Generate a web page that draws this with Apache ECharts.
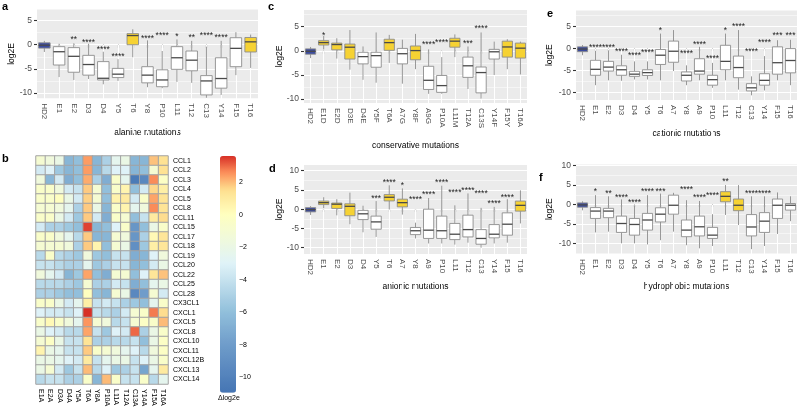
<!DOCTYPE html>
<html><head><meta charset="utf-8">
<script src="https://cdn.jsdelivr.net/npm/echarts@6/dist/echarts.min.js"></script>
<style>html,body{margin:0;padding:0;background:#fff}#c{width:800px;height:408px}</style>
</head><body><div id="c"></div>
<script>
// ---------------- DATA ----------------
// box rows: [min, Q1, median, Q3, max]
const catsA = ['HD2','E1','E2','D3','D4','Y5','T6','Y8','P10','L11','T12','C13','Y14','F15','T16'];
const boxA = [[-1.5,-0.7,-0.1,0.4,0.8],[-6.7,-4.2,-1.45,-0.4,0.2],[-7.3,-5.7,-2.4,-0.6,0.3],[-7.1,-6.3,-4.1,-2.2,0.2],
  [-8.2,-7.3,-6.95,-3.5,-1.45],[-7.5,-6.8,-6.1,-4.9,-3.0],[-2.6,0,1.9,2.3,3.2],[-8.8,-7.9,-6.3,-4.55,0.9],
  [-9.0,-8.7,-7.3,-5.2,-1.3],[-7.7,-5.1,-2.7,-0.4,1.1],[-7.9,-5.4,-3.2,-1.3,0.8],[-11.0,-10.4,-7.5,-6.4,-0.4],
  [-10.4,-9.0,-7.0,-2.7,0.8],[-6.3,-4.55,-0.75,1.45,2.6],[-4.8,-1.5,0.6,1.5,2.1]];
const groupA = ['ctrl','neg','neg','neg','neg','neg','pos','neg','neg','neg','neg','neg','neg','neg','pos'];
const starsA = ['','','**','****','****','****','','****','****','*','**','****','****','',''];
const starYA = [null,null,1.45,0.9,-0.6,-2.0,null,1.6,2.3,2.1,1.9,2.3,1.9,null,null];

const catsC = ['HD2','E1D','E2D','D3E','D4E','Y5F','T6A','A7G','Y8F','A9G','P10A','L11M','T12A','C13S','Y14F','F15Y','T16A'];
const boxC = [[-1.5,-0.7,-0.1,0.4,0.8],[0.3,1.2,1.7,2.1,3.1],[-1.6,0.2,1.3,1.6,2.6],[-3.9,-1.7,0.75,1.4,4.3],
  [-6.0,-2.7,-1.2,-0.3,0.9],[-6.6,-3.4,-1.0,-0.3,3.8],[-2.5,0.1,1.7,2.4,3.3],[-6.8,-2.7,-0.6,0.5,2.3],
  [-3.8,-1.85,0.05,1.0,3.5],[-8.9,-8.0,-6.1,-3.2,0.3],[-8.9,-8.6,-7.2,-5.1,-1.3],[-1.3,0.75,2.0,2.6,3.4],
  [-7.9,-5.5,-3.1,-1.3,0.9],[-9.9,-8.7,-4.5,-3.35,3.8],[-5.0,-1.7,-0.2,0.3,1.9],[-3.8,-1.3,0.8,2.0,2.4],
  [-4.9,-1.5,0.55,1.6,1.9]];
const groupC = ['ctrl','pos','pos','pos','neg','neg','pos','neg','pos','neg','neg','pos','neg','neg','neg','pos','pos'];
const starsC = ['','*','','','','','','','','****','****','','***','****','','',''];
const starYC = [null,3.6,null,null,null,null,null,null,null,1.7,2.1,null,1.85,4.9,null,null,null];

const catsE = ['HD2','E1','E2','D3','D4','Y5','T6','A7','Y8','A9','P10','L11','T12','C13','Y14','F15','T16'];
const boxE = [[-1.5,-0.7,-0.1,0.4,0.8],[-8.3,-6.05,-4.7,-2.65,-0.5],[-7.2,-5.1,-4.2,-2.9,-0.4],[-7.3,-6.05,-4.8,-3.9,-1.4],
  [-7.0,-6.3,-5.8,-5.15,-2.9],[-7.0,-6.1,-5.45,-4.8,-2.9],[-7.2,-3.6,-1.5,-0.2,3.4],[-5.1,-3.1,-0.6,1.7,4.2],
  [-8.3,-7.35,-6.05,-5.3,-3.8],[-7.2,-5.8,-5.1,-2.3,0.4],[-8.9,-8.3,-7.05,-6.05,-3.25],[-7.2,-4.8,-2.9,0.75,3.4],
  [-9.3,-6.6,-4.3,-1.7,4.2],[-10.6,-9.6,-8.9,-7.95,-6.3],[-9.5,-8.3,-7.2,-5.7,-1.7],[-7.2,-5.8,-3.2,0.4,1.9],
  [-8.3,-5.5,-2.7,0,2.0]];
const groupE = ['ctrl','neg','neg','neg','neg','neg','neg','neg','neg','neg','neg','neg','neg','neg','neg','neg','neg'];
const starsE = ['','****','****','****','****','****','*','','****','****','****','*','****','****','****','***','***'];
const starYE = [null,0.75,0.75,-0.25,-1.1,-0.5,4.5,null,-0.75,1.3,-1.9,4.5,5.45,-0.25,1.9,3.4,3.4];

const catsD = ['HD2','E1','E2','D3','D4','Y5','T6','A7','Y8','A9','P10','L11','T12','C13','Y14','F15','T16'];
const boxD = [[-1.5,-0.7,-0.1,0.4,0.8],[0.3,1.2,1.7,2.1,3.1],[-1.6,0.2,1.3,1.6,2.6],[-3.9,-1.7,0.75,1.4,4.3],
  [-6.0,-2.7,-1.2,-0.3,0.9],[-7.2,-5.2,-3.3,-1.8,2.1],[0,2.15,3.1,3.8,6.2],[-1.4,0.6,1.7,2.6,5.4],
  [-7.6,-6.6,-5.6,-4.75,-3.5],[-8.9,-7.6,-5.45,0,2.9],[-8.9,-7.6,-5.6,-1.8,6.1],[-9.2,-7.9,-6.5,-3.7,1.0],
  [-8.7,-7.2,-5.3,-1.55,4.1],[-10.0,-9.1,-7.6,-5.3,0.35],[-8.9,-7.45,-6.5,-4.0,0.6],[-8.7,-6.75,-3.9,-0.95,2.6],
  [-3.7,-0.5,1.0,2.1,4.9]];
const groupD = ['ctrl','pos','pos','pos','neg','neg','pos','pos','neg','neg','neg','neg','neg','neg','neg','neg','pos'];
const starsD = ['','','','','','***','****','*','****','****','****','****','****','****','****','****',''];
const starYD = [null,null,null,null,null,3.2,7.5,6.7,3.0,4.3,7.4,4.7,5.4,4.5,1.9,3.6,null];

const catsF = ['HD2','E1','E2','D3','D4','Y5','T6','A7','Y8','A9','P10','L11','T12','C13','Y14','F15','T16'];
const boxF = [[-1.5,-0.7,-0.1,0.4,0.8],[-7.2,-3.6,-1.7,-0.8,2.4],[-7.0,-3.4,-1.7,-1.0,2.1],[-10.0,-7.2,-4.9,-3.0,1.3],
  [-10.0,-7.9,-5.15,-3.6,-0.2],[-10.3,-6.6,-4.0,-2.3,2.4],[-9.2,-4.5,-2.5,-0.85,2.8],[-7.0,-2.5,-0.2,2.4,3.0],
  [-10.5,-8.3,-6.6,-4.0,1.1],[-11.3,-8.1,-5.75,-3.0,0.9],[-10.7,-8.75,-7.9,-5.9,-2.5],[-2.7,0.7,2.1,3.3,5.0],
  [-5.3,-1.6,-0.2,1.4,5.0],[-11.5,-8.1,-5.8,-2.6,2.1],[-10.7,-7.2,-4.3,-2.1,2.1],[-7.6,-3.6,-0.2,1.4,3.1],
  [-4.3,-1.45,-0.2,0.25,2.1]];
const groupF = ['ctrl','neg','neg','neg','neg','neg','neg','neg','neg','neg','neg','pos','pos','neg','neg','neg','neg'];
const starsF = ['','*','**','****','****','****','***','','****','****','****','**','','****','****','',''];
const starYF = [null,3.9,3.4,2.4,1.1,3.7,3.7,null,4.4,2.2,2.8,6.5,null,3.3,3.3,null,null];

const yMajorTicks = [-10,-5,0,5,10];
const yMinorTicks = [-12.5,-7.5,-2.5,2.5,7.5];

// heatmap
const hmCols = ['E1A','E2A','D3A','D4A','Y5A','T6A','Y8A','P10A','L11A','T12A','C13A','Y14A','F15A','T16A'];
const hmRows = ['CCL1','CCL2','CCL3','CCL4','CCL5','CCL8','CCL11','CCL15','CCL17','CCL18','CCL19','CCL20','CCL22','CCL25','CCL28','CX3CL1','CXCL1','CXCL5','CXCL8','CXCL10','CXCL11','CXCL12B','CXCL13','CXCL14'];
const hmValues = [
 [-1,-1.5,-2,-6.5,-6,2.4,-6.5,-5,-2.5,-2,-6.5,-6.5,1.9,1.4],
 [-3.5,-3,-5.5,-6.5,-6,2.4,-6.5,-4.5,-3,-3,-6.5,-6,-1,1.4],
 [-1.5,-6.5,-3.5,-7,-6,2.2,-5,-7,-0.5,-2.5,-10.5,-9.5,2.6,-0.3],
 [-0.5,-0.5,-1.5,-3.5,-4,1.8,-1,-6,-0.5,0.5,-6,-3.5,1.6,0.8],
 [-0.5,-0.5,0,-2,-3.5,1.7,-1,-6,0.6,1,-3.5,-0.5,2.3,1.3],
 [-1,-1,-1.5,-2.5,-5,1.8,-2,-6.5,-0.5,0.5,-2.5,-1.5,2.6,1.3],
 [-0.5,-0.5,-2,-3.5,-5.5,1.8,-3.5,-7,-0.5,-1,-6,-4,1,1.5],
 [-3.5,-5,-5,-5.5,-6,3.4,-6.5,-6,-3,-0.5,-8.5,-6,-2,-0.5],
 [-0.5,-0.5,-1.5,-2.5,-4.5,1.8,-6.5,-6.5,-1,-1.5,-8.5,-5,0.3,1.2],
 [-1,-1,-1,-1.5,-5,1.8,0.5,-6,-1,-2,-9,-5.5,0.8,1.2],
 [-4.5,-0.5,-4.5,-5,-5.5,-1.5,-5.5,-6,-4,-4,-7,-6.5,-3,-1.5],
 [-4,-4,-4.5,-5,-5,-2.5,-5.5,-5,-4,-4,-6.5,-6,-3.5,-2],
 [-1.5,-2.5,-3.5,-6.5,-5.5,2.3,-6,-7,-1,-1,-6,-3,1.2,1.9],
 [-4.5,-4.5,-4.5,-5,-5.5,-1,-5,-5,-3.5,-4,-7,-6,-2.5,-2],
 [-5,-5,-5.5,-6,-6,0,-6,-6.5,-1,-2,-9.5,-8,-1,-3.5],
 [-0.5,-0.5,-2,-3.5,-2.5,0.8,-4,-3.5,-4,-5,-5.5,-6,-2.5,-0.5],
 [-3,-3.5,-3.5,-4,-3,3.6,-4,-4.5,-5,-3.5,-1,-0.5,2.8,1.5],
 [-0.5,0.3,-0.5,-1.5,-2.5,2.5,-1,-1.5,-4.5,-4,-1,-0.3,-0.5,2],
 [-2,-3,-3.5,-4.5,-4.5,2.3,-4,-5.5,-3,-3.5,3,-5,-2,-0.5],
 [-1,-0.3,-2,-4,-4,1.3,-5,-5,-4.5,-4.5,-4,-6,-2,-0.3],
 [0.5,-2,-2.5,-4,-4,1.8,-0.5,-1,-1.5,-2.5,-3,-4.5,-1.5,-0.3],
 [-2,-2,-2.5,-3,-3.5,1,-4,-2.5,-2,-2,-4,-3,-2,-0.5],
 [-2,-1,-3.5,-5.5,-4,2,-4.5,-3,-5.5,-5,-4,-7.5,-2.5,1],
 [-4.5,-4,-4,-5,-5,-0.5,-6.5,2,-0.5,-4,-4,-0.5,-4.5,-2.5]
];
const legendTicks = [-10,-8,-6,-4,-2,0,2];
const hmMin = -10.95, hmMax = 3.6;

// ---------------- STYLE / LAYOUT ----------------
const FONT = '"Liberation Sans", Arial, Helvetica, sans-serif';
const GROUP_FILL = {ctrl:'#3A4A9E', pos:'#F6D233', neg:'#FFFFFF'};
const colorStops = [[-10.95,'#4575B4'],[-8,'#6F9CCA'],[-6,'#91BFDB'],[-3,'#E0F3F8'],[0,'#FFFFBF'],[1.5,'#FEE090'],[2.6,'#FC8D59'],[3.6,'#D73027']];
function hex(c){return [1,3,5].map(k=>parseInt(c.substr(k,2),16));}
function rampColors(n){
  const out=[];
  for(let k=0;k<n;k++){
    const v=hmMin+(hmMax-hmMin)*k/(n-1);
    let j=0; while(j<colorStops.length-2 && v>colorStops[j+1][0]) j++;
    const a=colorStops[j], b=colorStops[j+1];
    const t=Math.max(0,Math.min(1,(v-a[0])/(b[0]-a[0])));
    const ca=hex(a[1]), cb=hex(b[1]);
    out.push('rgb('+ca.map((x,m)=>Math.round(x+(cb[m]-x)*t)).join(',')+')');
  }
  return out;
}

const panels = [
 {cats:catsA, box:boxA, grp:groupA, stars:starsA, starY:starYA, grid:{left:37,top:9.5,width:221,height:88.8}, y:[-11.1,7.3], xname:'alanine mutations', xgap:29.5, ygap:20.5},
 {cats:catsC, box:boxC, grp:groupC, stars:starsC, starY:starYC, grid:{left:304,top:10,width:223,height:93}, y:[-10.8,8.45], xname:'conservative mutations', xgap:38.5, ygap:19.5},
 {cats:catsE, box:boxE, grp:groupE, stars:starsE, starY:starYE, grid:{left:576,top:10.5,width:221,height:89.5}, y:[-11.66,8.64], xname:'cationic mutations', xgap:29, ygap:21.5},
 {cats:catsD, box:boxD, grp:groupD, stars:starsD, starY:starYD, grid:{left:304,top:165,width:223,height:89}, y:[-11.64,11.48], xname:'anionic mutations', xgap:28.5, ygap:19.5},
 {cats:catsF, box:boxF, grp:groupF, stars:starsF, starY:starYF, grid:{left:576,top:164.5,width:221,height:89.5}, y:[-12.76,10.3], xname:'hydrophobic mutations', xgap:28.5, ygap:21.5}
];

const grids=[], xAxes=[], yAxes=[], series=[];
panels.forEach((p,k)=>{
  grids.push(Object.assign({show:true, backgroundColor:'#EBEBEB', borderWidth:0, outerBoundsMode:'none', containLabel:false}, p.grid));
  const inRange = v => v>=p.y[0] && v<=p.y[1];
  xAxes.push({type:'category', gridIndex:k, data:p.cats, position:'bottom',
    axisLine:{show:false}, splitLine:{show:false},
    axisTick:{show:true, length:3, alignWithLabel:true, interval:0, lineStyle:{color:'#333', width:1.1}},
    axisLabel:{rotate:-90, interval:0, fontSize:8, color:'#4D4D4D', fontFamily:FONT, margin:5},
    name:p.xname, nameLocation:'middle', nameGap:p.xgap, nameMoveOverlap:false,
    nameTextStyle:{fontSize:8.5, color:'#000', fontFamily:FONT}});
  xAxes.push({type:'category', gridIndex:k, data:p.cats, position:'top',
    axisLine:{show:false}, axisLabel:{show:false}, splitLine:{show:false},
    axisTick:{show:true, inside:true, length:p.grid.height, alignWithLabel:true, interval:0, lineStyle:{color:'#FFFFFF', width:1}}});
  const major = yMajorTicks.filter(inRange), minor = yMinorTicks.filter(inRange);
  yAxes.push({type:'value', gridIndex:k, min:p.y[0], max:p.y[1], position:'left',
    axisLine:{show:false},
    axisTick:{show:true, length:3, customValues:major, lineStyle:{color:'#333', width:1.1}},
    axisLabel:{customValues:major, fontSize:8.5, color:'#4D4D4D', fontFamily:FONT, margin:5},
    splitLine:{show:true, lineStyle:{color:'#FFFFFF', width:1}},
    name:'log2E', nameLocation:'middle', nameRotate:90, nameGap:p.ygap, nameMoveOverlap:false,
    nameTextStyle:{fontSize:8.5, color:'#000', fontFamily:FONT}});
  yAxes.push({type:'value', gridIndex:k, min:p.y[0], max:p.y[1], position:'left',
    axisLine:{show:false}, axisLabel:{show:false},
    axisTick:{show:false, customValues:minor},
    splitLine:{show:true, lineStyle:{color:'#FFFFFF', width:0.5}}});
  series.push({type:'custom', xAxisIndex:2*k, yAxisIndex:2*k, silent:true, z:3, clip:false,
    encode:{x:0, y:[1,2,3,4,5]},
    data:p.cats.map((c,i)=>[i].concat(p.box[i])),
    renderItem:function(params, api){
      const i=params.dataIndex, b=p.box[i];
      const x=api.coord([i,0])[0];
      const bw=api.size([1,0])[0]*0.78;
      const y=b.map(v=>api.coord([i,v])[1]);
      const line='#8C8C8C';
      const kids=[
        {type:'line', shape:{x1:x,y1:y[4],x2:x,y2:y[3]}, style:{stroke:line, lineWidth:0.9}},
        {type:'line', shape:{x1:x,y1:y[1],x2:x,y2:y[0]}, style:{stroke:line, lineWidth:0.9}},
        {type:'rect', shape:{x:x-bw/2,y:y[3],width:bw,height:y[1]-y[3]}, style:{fill:GROUP_FILL[p.grp[i]], stroke:line, lineWidth:0.9}},
        {type:'line', shape:{x1:x-bw/2,y1:y[2],x2:x+bw/2,y2:y[2]}, style:{stroke:'#4A4A4A', lineWidth:1.3}}
      ];
      if(p.stars[i]){
        const sy=api.coord([i,p.starY[i]])[1];
        kids.push({type:'text', style:{text:p.stars[i], x:x, y:sy+2, align:'center', verticalAlign:'middle', fontSize:8.5, fontFamily:FONT, fill:'#222'}});
      }
      return {type:'group', children:kids};
    }});
});

// heatmap grid (index 5)
grids.push({left:36, top:156, width:132, height:228, show:false, outerBoundsMode:'none', containLabel:false});
xAxes.push({type:'category', gridIndex:5, data:hmCols, position:'bottom',
  axisLine:{show:false}, axisTick:{show:false}, splitLine:{show:false},
  axisLabel:{rotate:-90, interval:0, fontSize:7, color:'#000', fontFamily:FONT, margin:5}});
yAxes.push({type:'category', gridIndex:5, data:hmRows, inverse:true, position:'right',
  axisLine:{show:false}, axisTick:{show:false}, splitLine:{show:false},
  axisLabel:{interval:0, fontSize:7, color:'#000', fontFamily:FONT, margin:5}});
const hmData=[];
hmRows.forEach((r,ri)=>hmCols.forEach((c,ci)=>hmData.push([ci,ri,hmValues[ri][ci]])));
const hmSeriesIndex = series.length;
series.push({type:'heatmap', xAxisIndex:10, yAxisIndex:10, data:hmData, silent:true,
  itemStyle:{borderColor:'#A3A3A3', borderWidth:1}, emphasis:{disabled:true}});

// colorbar label axis (grid 6)
grids.push({left:220, top:156, width:16, height:236.7, show:false, outerBoundsMode:'none', containLabel:false});
xAxes.push({type:'value', gridIndex:6, min:0, max:1, show:false});
yAxes.push({type:'value', gridIndex:6, min:hmMin, max:hmMax, position:'right',
  axisLine:{show:false}, axisTick:{show:false, customValues:legendTicks}, splitLine:{show:false},
  axisLabel:{customValues:legendTicks, fontSize:7, color:'#000', fontFamily:FONT, margin:3,
    formatter:v=>String(v).replace('-','\u2212')}});

const titleStyle={fontSize:11, fontWeight:'bold', color:'#000', fontFamily:FONT};
const option={
  animation:false,
  backgroundColor:'#FFFFFF',
  title:[
    {text:'a', left:2, top:1, padding:0, textStyle:titleStyle},
    {text:'b', left:2, top:153, padding:0, textStyle:titleStyle},
    {text:'c', left:268, top:1, padding:0, textStyle:titleStyle},
    {text:'d', left:269, top:163, padding:0, textStyle:titleStyle},
    {text:'e', left:547, top:8, padding:0, textStyle:titleStyle},
    {text:'f', left:539, top:172, padding:0, textStyle:titleStyle},
    {text:'\u0394log2e', left:218, top:395, padding:0, textStyle:{fontSize:7, fontWeight:'normal', color:'#000', fontFamily:FONT}}
  ],
  grid:grids, xAxis:xAxes, yAxis:yAxes, series:series,
  visualMap:{type:'continuous', min:hmMin, max:hmMax, seriesIndex:hmSeriesIndex, calculable:false, hoverLink:false,
    left:220, top:156, itemWidth:16, itemHeight:236.7, padding:0, orient:'vertical',
    inRange:{color:rampColors(80)}, textStyle:{fontSize:7}}
};
const chart=echarts.init(document.getElementById('c'), null, {renderer:'canvas'});
chart.setOption(option);
</script></body></html>
